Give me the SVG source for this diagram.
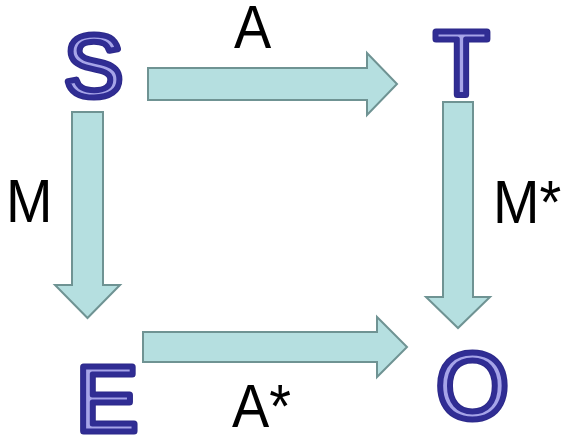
<svg xmlns="http://www.w3.org/2000/svg" width="563" height="436" viewBox="0 0 563 436">
<style>
.arrow{fill:#b5dfe0;stroke:#6f9393;stroke-width:2;stroke-linejoin:miter}
.big{font-family:"Liberation Sans",Arial,sans-serif;text-anchor:middle;stroke-linejoin:round}
.under{fill:#2d2a8a;stroke:#2d2a8a;stroke-width:7}
.over{fill:#a6a4e8;stroke:#302d94;stroke-width:5}
.lbl{font-family:"Liberation Sans",Arial,sans-serif;font-size:62px;fill:#000}
</style>
<rect width="563" height="436" fill="#ffffff"/>
<g id="connectors">
<polygon class="arrow" points="148,68 367,68 367,53 397,84 367,115 367,100 148,100"/>
<polygon class="arrow" points="143,332 377,332 377,317 407,347 377,377 377,362 143,362"/>
<polygon class="arrow" points="72,112 103,112 103,285 120,285 87.5,318 55,285 72,285"/>
<polygon class="arrow" points="443,102 473,102 473,297 490,297 458,328 426,297 443,297"/>
</g>
<g id="node-S">
<text class="big under" x="93.5" y="96" font-size="88">S</text>
<text class="big over" x="93.5" y="96" font-size="88">S</text>
</g>
<g id="node-T">
<text class="big under" x="461.5" y="95" font-size="90">T</text>
<text class="big over" x="461.5" y="95" font-size="90">T</text>
</g>
<g id="node-E">
<text class="big under" x="107" y="431" font-size="93">E</text>
<text class="big over" x="107" y="431" font-size="93">E</text>
</g>
<g id="node-O">
<text class="big under" x="472.5" y="418" font-size="93">O</text>
<text class="big over" x="472.5" y="418" font-size="93">O</text>
</g>
<g id="labels">
<text class="lbl" transform="translate(234,48) scale(0.9,1)">A</text>
<text class="lbl" transform="translate(6,222) scale(0.9,1)">M</text>
<text class="lbl" transform="translate(493,223) scale(0.9,1)">M*</text>
<text class="lbl" transform="translate(232,427) scale(0.9,1)">A*</text>
</g>
</svg>
